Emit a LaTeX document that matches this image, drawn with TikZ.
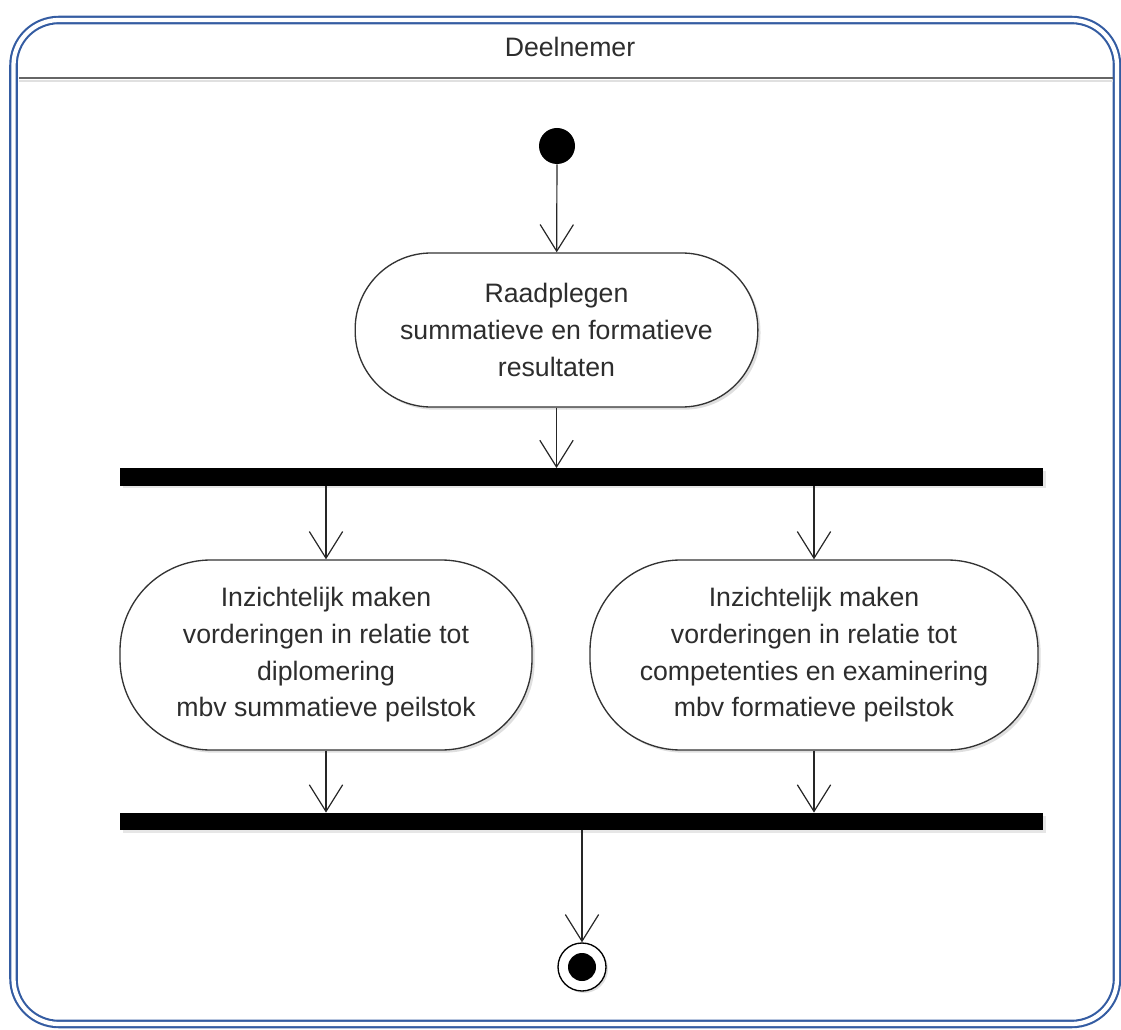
\documentclass[tikz,border=0pt]{standalone}
\usepackage{fontspec}
\setmainfont{Liberation Sans}
\usetikzlibrary{arrows.meta,shadows}
\definecolor{lanecol}{RGB}{52,92,162}
\definecolor{inkcol}{RGB}{45,45,45}

\begin{document}
\begin{tikzpicture}[x=0.75pt, y=-0.75pt, every node/.style={font=\fontsize{20}{27.5}\selectfont, text=inkcol}, act/.style={draw=black!80, fill=white, line width=1pt, rounded corners=#1, align=center, inner sep=0pt, drop shadow={opacity=0.25, shadow xshift=2pt, shadow yshift=-2pt}}, act/.default=57pt, bar/.style={fill=black, inner sep=0pt, minimum width=692pt, minimum height=13pt, drop shadow={opacity=0.2, shadow xshift=2pt, shadow yshift=-2pt}}, arrow/.style={-{Straight Barb[length=20pt, width=25pt]}, line width=0.9pt, black!85}]
\useasboundingbox (0,0) rectangle (1121,1030);
% swimlane
\draw[lanecol, double=white, double distance=3.2pt, line width=1.6pt, rounded corners=34pt] (13.5,20) rectangle (1117,1024);
\draw[black!12, line width=2pt] (19,81) -- (1113,81);
\draw[black!60, line width=1.6pt] (19,78) -- (1113,78);
\node (lane) at (570,47) {Deelnemer};
% activities
\node[circle, fill=black, minimum size=27pt, inner sep=0pt] (start) at (557,146) {};
\node[act, minimum width=302pt, minimum height=115.5pt] (consult) at (556.5,330) {Raadplegen\\summatieve en formatieve\\resultaten};
\node[bar] (fork) at (581.5,477) {};
\node[act=68pt, minimum width=309pt, minimum height=142.5pt] (diploma) at (326,655) {Inzichtelijk maken\\vorderingen in relatie tot\\diplomering\\mbv summatieve peilstok};
\node[act=68pt, minimum width=336pt, minimum height=142.5pt] (compet) at (814,655) {Inzichtelijk maken\\vorderingen in relatie tot\\competenties en examinering\\mbv formatieve peilstok};
\node[bar] (join) at (581.5,821.5) {};
\node[circle, draw=black, line width=1pt, fill=white, minimum size=36pt, inner sep=0pt, drop shadow={opacity=0.25, shadow xshift=1.5pt, shadow yshift=-1.5pt}, path picture={\fill[black] (path picture bounding box.center) circle (10.5pt);}] (finish) at (582,967) {};
% flows
\draw[arrow] (start) -- (consult);
\draw[arrow] (consult) -- (consult |- fork.north);
\draw[arrow] (fork.south -| diploma) -- (diploma);
\draw[arrow] (fork.south -| compet) -- (compet);
\draw[arrow] (diploma) -- (diploma |- join.north);
\draw[arrow] (compet) -- (compet |- join.north);
\draw[arrow] (join.south -| finish) -- (finish);
\end{tikzpicture}
\end{document}
